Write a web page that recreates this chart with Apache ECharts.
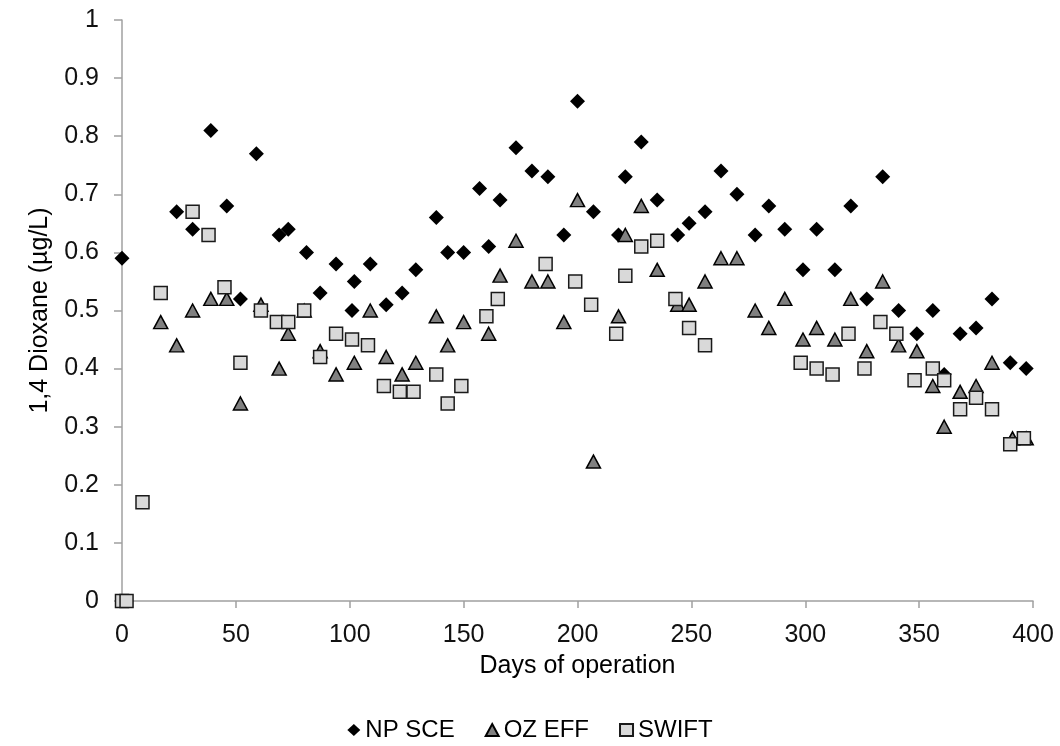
<!DOCTYPE html>
<html>
<head>
<meta charset="utf-8">
<script src="https://cdn.jsdelivr.net/npm/echarts@6/dist/echarts.min.js"></script>
<style>html,body{margin:0;padding:0;background:#fff}#c{width:1060px;height:746px}</style>
</head>
<body>
<div id="c"></div>
<script>
const seriesNames = ['NP SCE', 'OZ EFF', 'SWIFT'];

const npDays = [0,24,31,39,46,52,59,69,73,81,87,94,101,102,109,116,123,129,138,143,150,157,161,166,173,180,187,194,200,207,218,221,228,235,244,249,256,263,270,278,284,291,299,305,313,320,327,334,341,349,356,361,368,375,382,390,397];
const npVals = [0.59,0.67,0.64,0.81,0.68,0.52,0.77,0.63,0.64,0.60,0.53,0.58,0.50,0.55,0.58,0.51,0.53,0.57,0.66,0.60,0.60,0.71,0.61,0.69,0.78,0.74,0.73,0.63,0.86,0.67,0.63,0.73,0.79,0.69,0.63,0.65,0.67,0.74,0.70,0.63,0.68,0.64,0.57,0.64,0.57,0.68,0.52,0.73,0.50,0.46,0.50,0.39,0.46,0.47,0.52,0.41,0.40];

const ozDays = [17,24,31,39,46,52,61,69,73,80,87,94,102,109,116,123,129,138,143,150,161,166,173,180,187,194,200,207,218,221,228,235,244,249,256,263,270,278,284,291,299,305,313,320,327,334,341,349,356,361,368,375,382,391,397];
const ozVals = [0.48,0.44,0.50,0.52,0.52,0.34,0.51,0.40,0.46,0.50,0.43,0.39,0.41,0.50,0.42,0.39,0.41,0.49,0.44,0.48,0.46,0.56,0.62,0.55,0.55,0.48,0.69,0.24,0.49,0.63,0.68,0.57,0.51,0.51,0.55,0.59,0.59,0.50,0.47,0.52,0.45,0.47,0.45,0.52,0.43,0.55,0.44,0.43,0.37,0.30,0.36,0.37,0.41,0.28,0.28];

const swDays = [0,2,9,17,31,38,45,52,61,68,73,80,87,94,101,108,115,122,128,138,143,149,160,165,186,199,206,217,221,228,235,243,249,256,298,305,312,319,326,333,340,348,356,361,368,375,382,390,396];
const swVals = [0,0,0.17,0.53,0.67,0.63,0.54,0.41,0.50,0.48,0.48,0.50,0.42,0.46,0.45,0.44,0.37,0.36,0.36,0.39,0.34,0.37,0.49,0.52,0.58,0.55,0.51,0.46,0.56,0.61,0.62,0.52,0.47,0.44,0.41,0.40,0.39,0.46,0.40,0.48,0.46,0.38,0.40,0.38,0.33,0.35,0.33,0.27,0.28];

const xTicks = [0,50,100,150,200,250,300,350,400];
const yTicks = [0,0.1,0.2,0.3,0.4,0.5,0.6,0.7,0.8,0.9,1];

const zip = (a, b) => a.map((d, i) => [d, b[i]]);
const font = 'Liberation Sans, Arial, sans-serif';
const axisColor = '#a0a0a0';
const labelColor = '#111';

const chart = echarts.init(document.getElementById('c'));
chart.setOption({
  animation: false,
  backgroundColor: '#fff',
  grid: { left: 122, right: 27, top: 20, bottom: 145 },
  legend: {
    top: 713, left: 'center', itemGap: 30, itemWidth: 13, itemHeight: 12,
    textStyle: { fontFamily: font, fontSize: 24, color: '#000' },
    data: seriesNames
  },
  xAxis: {
    type: 'value', min: 0, max: 400, interval: 50,
    name: 'Days of operation', nameLocation: 'middle', nameGap: 53,
    nameTextStyle: { fontFamily: font, fontSize: 25, color: '#000' },
    axisLine: { show: true, onZero: false, lineStyle: { color: axisColor, width: 1.5 } },
    axisTick: { show: true, length: 7, lineStyle: { color: axisColor, width: 1.5 } },
    axisLabel: { fontFamily: font, fontSize: 25, color: labelColor, margin: 22,
      formatter: v => xTicks.includes(v) ? String(v) : '' },
    splitLine: { show: false }
  },
  yAxis: {
    type: 'value', min: 0, max: 1, interval: 0.1,
    name: '1,4 Dioxane (µg/L)', nameLocation: 'middle', nameGap: 69, nameRotate: 90,
    nameTextStyle: { fontFamily: font, fontSize: 25, color: '#000' },
    axisLine: { show: true, lineStyle: { color: axisColor, width: 1.5 } },
    axisTick: { show: true, length: 8, lineStyle: { color: axisColor, width: 1.5 } },
    axisLabel: { fontFamily: font, fontSize: 25, color: labelColor, margin: 23,
      formatter: v => yTicks.includes(Math.round(v * 10) / 10) ? String(Math.round(v * 10) / 10) : '' },
    splitLine: { show: false }
  },
  series: [
    { name: seriesNames[0], type: 'scatter', data: zip(npDays, npVals), symbol: 'diamond', symbolSize: 15,
      itemStyle: { color: '#000', borderColor: '#000', borderWidth: 0, opacity: 1 } },
    { name: seriesNames[1], type: 'scatter', data: zip(ozDays, ozVals), symbol: 'triangle', symbolSize: [14, 13],
      itemStyle: { color: '#808080', borderColor: '#000', borderWidth: 1.5, opacity: 1 } },
    { name: seriesNames[2], type: 'scatter', data: zip(swDays, swVals), symbol: 'rect', symbolSize: 13,
      itemStyle: { color: '#d9d9d9', borderColor: '#1a1a1a', borderWidth: 1.5, opacity: 1 } }
  ]
});
</script>
</body>
</html>
